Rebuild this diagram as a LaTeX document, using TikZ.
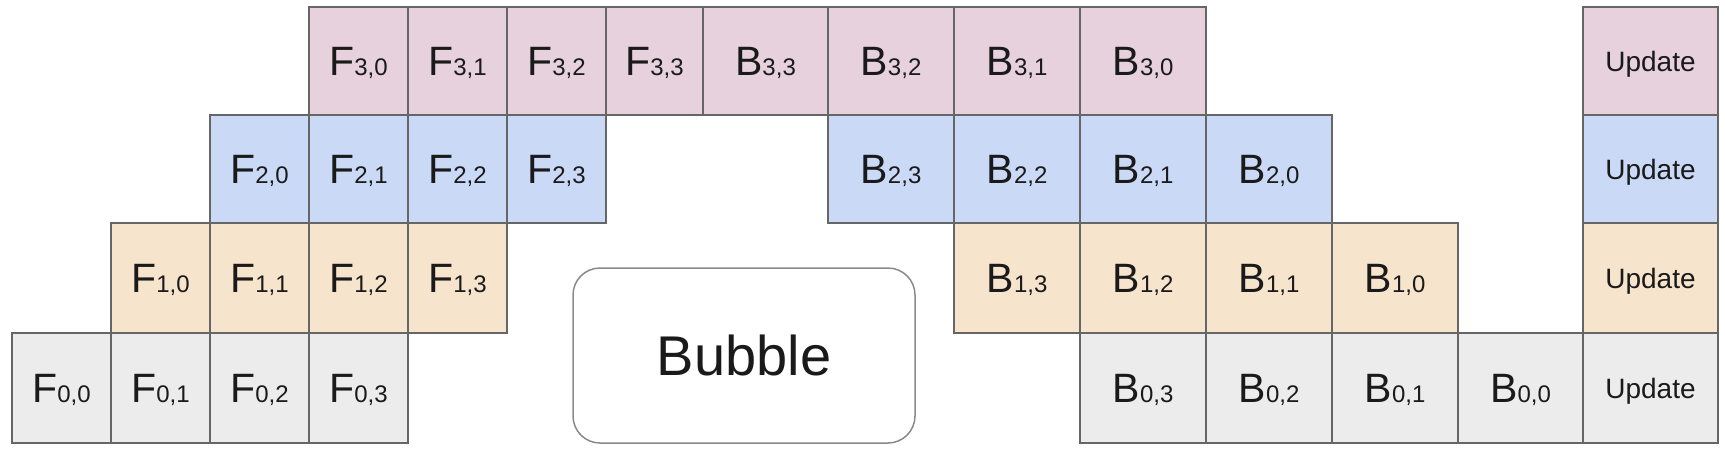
\documentclass[tikz,border=0pt]{standalone}
\usepackage{fontspec}
\setmainfont{Liberation Sans}
\definecolor{pinkc}{HTML}{E6D1DD}
\definecolor{bluec}{HTML}{CAD9F6}
\definecolor{orangec}{HTML}{F7E4CC}
\definecolor{grayc}{HTML}{ECECEC}
\definecolor{linec}{HTML}{666666}
\definecolor{bubblec}{HTML}{8A8A8A}
\definecolor{textc}{HTML}{1A1A1A}
\newcommand{\lab}[2]{#1\raisebox{-0.4pt}{\fontsize{12}{14}\selectfont #2}}
% \cell{name}{style}{x1}{y1}{x2}{y2}{text}
\newcommand{\cell}[7]{%
  \node[#2, minimum width={(#5-#3)*0.5pt}, minimum height={(#6-#4)*0.5pt}]
    (#1) at ({(#3+#5)/2},{(#4+#6)/2}) {#7};}
\begin{document}
\begin{tikzpicture}[x=0.5pt,y=-0.5pt,
  cellbox/.style={draw=linec, line width=0.75pt, inner sep=0pt, outer sep=0pt,
    text depth=0pt, font=\fontsize{20.5}{24}\selectfont, text=textc},
  pinkcell/.style={cellbox, fill=pinkc},
  bluecell/.style={cellbox, fill=bluec},
  orangecell/.style={cellbox, fill=orangec},
  graycell/.style={cellbox, fill=grayc},
  upd/.style={font=\fontsize{14}{16}\selectfont},
  bubblebox/.style={draw=bubblec, line width=0.75pt, rounded corners=13.5pt,
    inner sep=0pt, text depth=0pt, fill=white, font=\fontsize{28}{32}\selectfont, text=textc}]
\useasboundingbox (0,0) rectangle (1725,455);
% row 3
\cell{F30}{pinkcell}{309}{7}{408}{115}{\lab{F}{3,0}}
\cell{F31}{pinkcell}{408}{7}{507}{115}{\lab{F}{3,1}}
\cell{F32}{pinkcell}{507}{7}{606}{115}{\lab{F}{3,2}}
\cell{F33}{pinkcell}{606}{7}{703}{115}{\lab{F}{3,3}}
\cell{B33}{pinkcell}{703}{7}{828}{115}{\lab{B}{3,3}}
\cell{B32}{pinkcell}{828}{7}{954}{115}{\lab{B}{3,2}}
\cell{B31}{pinkcell}{954}{7}{1080}{115}{\lab{B}{3,1}}
\cell{B30}{pinkcell}{1080}{7}{1206}{115}{\lab{B}{3,0}}
\cell{U3}{pinkcell,upd}{1583}{7}{1718}{115}{Update}
% row 2
\cell{F20}{bluecell}{210}{115}{309}{223}{\lab{F}{2,0}}
\cell{F21}{bluecell}{309}{115}{408}{223}{\lab{F}{2,1}}
\cell{F22}{bluecell}{408}{115}{507}{223}{\lab{F}{2,2}}
\cell{F23}{bluecell}{507}{115}{606}{223}{\lab{F}{2,3}}
\cell{B23}{bluecell}{828}{115}{954}{223}{\lab{B}{2,3}}
\cell{B22}{bluecell}{954}{115}{1080}{223}{\lab{B}{2,2}}
\cell{B21}{bluecell}{1080}{115}{1206}{223}{\lab{B}{2,1}}
\cell{B20}{bluecell}{1206}{115}{1332}{223}{\lab{B}{2,0}}
\cell{U2}{bluecell,upd}{1583}{115}{1718}{223}{Update}
% row 1
\cell{F10}{orangecell}{111}{223}{210}{333}{\lab{F}{1,0}}
\cell{F11}{orangecell}{210}{223}{309}{333}{\lab{F}{1,1}}
\cell{F12}{orangecell}{309}{223}{408}{333}{\lab{F}{1,2}}
\cell{F13}{orangecell}{408}{223}{507}{333}{\lab{F}{1,3}}
\cell{B13}{orangecell}{954}{223}{1080}{333}{\lab{B}{1,3}}
\cell{B12}{orangecell}{1080}{223}{1206}{333}{\lab{B}{1,2}}
\cell{B11}{orangecell}{1206}{223}{1332}{333}{\lab{B}{1,1}}
\cell{B10}{orangecell}{1332}{223}{1458}{333}{\lab{B}{1,0}}
\cell{U1}{orangecell,upd}{1583}{223}{1718}{333}{Update}
% row 0
\cell{F00}{graycell}{12}{333}{111}{443}{\lab{F}{0,0}}
\cell{F01}{graycell}{111}{333}{210}{443}{\lab{F}{0,1}}
\cell{F02}{graycell}{210}{333}{309}{443}{\lab{F}{0,2}}
\cell{F03}{graycell}{309}{333}{408}{443}{\lab{F}{0,3}}
\cell{B03}{graycell}{1080}{333}{1206}{443}{\lab{B}{0,3}}
\cell{B02}{graycell}{1206}{333}{1332}{443}{\lab{B}{0,2}}
\cell{B01}{graycell}{1332}{333}{1458}{443}{\lab{B}{0,1}}
\cell{B00}{graycell}{1458}{333}{1583}{443}{\lab{B}{0,0}}
\cell{U0}{graycell,upd}{1583}{333}{1718}{443}{Update}
% bubble
\cell{bubble}{bubblebox}{573}{268}{915}{443}{Bubble}
\end{tikzpicture}
\end{document}
